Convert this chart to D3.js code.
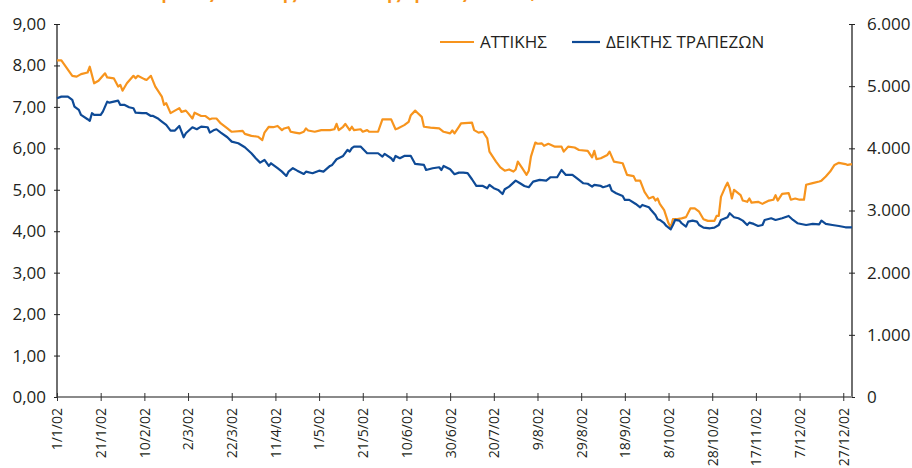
<!DOCTYPE html>
<html>
<head>
<meta charset="utf-8">
<script src="https://cdn.jsdelivr.net/npm/d3@7"></script>
<style>
  body { margin: 0; background: #fff; }
  svg { display: block; font-family: "Open Sans", sans-serif; }
</style>
</head>
<body>
<div id="chart"></div>
<script>
// ΑΤΤΙΚΗΣ (left axis, €) - dates as d/m of 2002
const attikiDates = ["1/1","3/1","8/1","10/1","12/1","15/1","16/1","18/1","20/1","23/1","24/1","27/1","29/1","30/1","31/1",
  "2/2","5/2","6/2","7/2","10/2","11/2","13/2","15/2","18/2","19/2","20/2","22/2","23/2","26/2","27/2",
  "1/3","2/3","4/3","5/3","8/3","10/3","12/3","13/3","15/3","17/3","20/3","22/3","27/3","28/3","31/3",
  "3/4","5/4","6/4","8/4","10/4","12/4","14/4","15/4","17/4","18/4","20/4","22/4","24/4","25/4","26/4","29/4",
  "2/5","6/5","8/5","9/5","10/5","12/5","13/5","15/5","16/5","17/5","20/5","21/5","23/5","24/5","28/5","30/5",
  "3/6","5/6","6/6","9/6","11/6","12/6","14/6","15/6","17/6","18/6","21/6","25/6","27/6","30/6",
  "1/7","2/7","4/7","5/7","10/7","11/7","13/7","15/7","17/7","18/7","21/7","23/7","25/7","27/7","29/7","30/7","31/7",
  "2/8","4/8","5/8","6/8","8/8","9/8","11/8","12/8","14/8","17/8","20/8","21/8","23/8","26/8","28/8",
  "1/9","3/9","4/9","5/9","7/9","10/9","11/9","13/9","17/9","19/9","22/9","23/9","25/9","27/9","29/9",
  "1/10","2/10","3/10","4/10","6/10","8/10","9/10","10/10","12/10","14/10","16/10","18/10","20/10","22/10","24/10","26/10","29/10","30/10","31/10",
  "1/11","3/11","4/11","5/11","6/11","7/11","10/11","11/11","13/11","14/11","15/11","18/11","20/11","23/11","25/11","26/11","27/11","29/11",
  "2/12","3/12","5/12","7/12","9/12","10/12","13/12","16/12","17/12","19/12","21/12","23/12","25/12","28/12","29/12","31/12"];
const attikiValues = [8.12,8.12,7.75,7.73,7.79,7.83,7.97,7.57,7.63,7.81,7.71,7.69,7.49,7.53,7.39,
  7.57,7.75,7.69,7.75,7.67,7.65,7.75,7.49,7.25,7.05,7.09,6.85,6.88,6.97,6.88,
  6.91,6.85,6.72,6.86,6.78,6.78,6.70,6.72,6.72,6.60,6.48,6.40,6.42,6.35,6.30,
  6.28,6.20,6.38,6.52,6.51,6.54,6.44,6.48,6.51,6.40,6.38,6.36,6.40,6.48,6.43,6.40,
  6.44,6.44,6.46,6.59,6.44,6.52,6.59,6.44,6.52,6.44,6.46,6.40,6.44,6.40,6.40,6.70,
  6.70,6.46,6.48,6.56,6.64,6.80,6.91,6.86,6.76,6.52,6.50,6.48,6.40,6.36,
  6.43,6.36,6.52,6.60,6.62,6.44,6.38,6.40,6.24,5.92,5.68,5.54,5.46,5.49,5.44,5.49,5.68,
  5.52,5.36,5.46,5.80,6.14,6.11,6.12,6.06,6.11,6.04,6.04,5.92,6.04,6.02,5.96,
  5.94,5.78,5.94,5.74,5.76,5.84,5.92,5.68,5.64,5.36,5.33,5.22,5.22,4.95,4.79,
  4.83,4.74,4.79,4.66,4.51,4.19,4.09,4.29,4.29,4.31,4.34,4.55,4.55,4.47,4.29,4.25,4.25,4.37,4.37,
  4.83,5.07,5.17,5.04,4.79,5.00,4.87,4.74,4.71,4.79,4.69,4.71,4.66,4.74,4.76,4.87,4.74,4.90,
  4.92,4.76,4.79,4.76,4.76,5.12,5.16,5.20,5.22,5.32,5.44,5.60,5.65,5.62,5.60,5.62];

// ΔΕΙΚΤΗΣ ΤΡΑΠΕΖΩΝ (right axis, points)
const bankDates = ["1/1","3/1","6/1","8/1","9/1","11/1","12/1","15/1","16/1","17/1","18/1","21/1","22/1","24/1","25/1","27/1","29/1","30/1",
  "1/2","3/2","5/2","6/2","9/2","11/2","13/2","14/2","16/2","18/2","20/2","22/2","24/2","25/2","26/2","27/2","28/2",
  "1/3","3/3","4/3","6/3","8/3","11/3","12/3","14/3","15/3","17/3","20/3","22/3","25/3","28/3","31/3",
  "2/4","4/4","6/4","8/4","9/4","12/4","14/4","16/4","17/4","19/4","21/4","24/4","25/4","28/4",
  "1/5","3/5","6/5","7/5","9/5","12/5","14/5","15/5","16/5","17/5","20/5","23/5","26/5","28/5","30/5","31/5",
  "3/6","4/6","5/6","7/6","9/6","12/6","14/6","18/6","19/6","22/6","25/6","26/6","27/6","30/6",
  "2/7","4/7","6/7","8/7","10/7","12/7","15/7","17/7","18/7","20/7","22/7","24/7","25/7","27/7","30/7",
  "1/8","3/8","5/8","7/8","10/8","13/8","15/8","18/8","20/8","22/8","25/8","28/8","30/8",
  "1/9","3/9","4/9","7/9","8/9","10/9","11/9","12/9","14/9","17/9","18/9","20/9","23/9","25/9","26/9","29/9","30/9",
  "2/10","3/10","4/10","6/10","7/10","9/10","10/10","11/10","13/10","14/10","16/10","17/10","19/10","21/10","22/10","24/10","27/10","29/10","31/10",
  "1/11","4/11","5/11","7/11","9/11","11/11","13/11","14/11","16/11","18/11","20/11","21/11","24/11","26/11","29/11",
  "2/12","4/12","6/12","10/12","13/12","16/12","17/12","19/12","22/12","25/12","28/12","31/12"];
const bankValues = [4806,4832,4832,4779,4671,4618,4537,4468,4441,4565,4537,4537,4591,4751,4735,4751,4767,4698,
  4698,4661,4645,4574,4565,4565,4521,4521,4484,4430,4377,4285,4285,4323,4360,4269,4178,
  4243,4307,4339,4307,4349,4339,4253,4296,4307,4253,4178,4108,4082,4018,3921,
  3841,3770,3813,3717,3760,3680,3625,3556,3625,3680,3641,3588,3625,3599,
  3641,3625,3717,3733,3825,3878,3974,3947,4002,4028,4028,3921,3921,3921,3866,3910,
  3841,3797,3878,3841,3878,3878,3749,3733,3652,3680,3696,3652,3717,3663,
  3583,3609,3609,3600,3503,3395,3395,3358,3411,3358,3331,3266,3342,3384,3480,
  3438,3395,3374,3464,3492,3480,3535,3535,3652,3572,3572,3492,3438,
  3430,3384,3411,3395,3374,3395,3411,3319,3277,3234,3170,3170,3105,3052,3089,3052,3009,
  2928,2859,2848,2795,2751,2698,2767,2848,2837,2795,2740,2821,2837,2821,2767,2724,2714,2724,2767,
  2848,2891,2956,2891,2875,2837,2767,2805,2784,2751,2767,2848,2875,2848,2875,
  2912,2848,2795,2767,2784,2778,2837,2784,2767,2751,2730,2730];

const leftTicks = [0, 1, 2, 3, 4, 5, 6, 7, 8, 9];
const rightTicks = [0, 1000, 2000, 3000, 4000, 5000, 6000];
const tickEveryDays = 20;

const seriesNames = ["ΑΤΤΙΚΗΣ", "ΔΕΙΚΤΗΣ ΤΡΑΠΕΖΩΝ"];
const title = "Τράπεζα Αττικής και Δείκτης Τραπεζών ΧΑΑ, 2002";

const W = 912, H = 468;
const orange = "#f7941d", blue = "#0e4a96";

const parseDay = d3.timeParse("%d/%m/%Y");
const toDate = s => parseDay(s + "/2002");

const attiki = attikiDates.map((d, i) => ({date: toDate(d), value: attikiValues[i]}));
const bank = bankDates.map((d, i) => ({date: toDate(d), value: bankValues[i]}));

const gr = d3.formatLocale({decimal: ",", thousands: ".", grouping: [3], currency: ["", "€"]});

const svg = d3.select("#chart").append("svg")
    .attr("width", W)
    .attr("height", H);

const start = new Date(2002, 0, 1), end = new Date(2002, 11, 31);
const x = d3.scaleTime().domain([start, end]).range([57, 852]);
const yL = d3.scaleLinear().domain([0, 9]).range([397, 24]);
const yR = d3.scaleLinear().domain([0, 6000]).range([397, 24]);

// title (cut by the top edge, as in the source)
svg.append("text")
    .attr("x", 152).attr("y", -1)
    .attr("fill", orange)
    .attr("font-size", 17)
    .attr("font-weight", 700)
    .text(title);

// left axis
const leftAxis = svg.append("g")
    .attr("transform", "translate(57,0)")
    .call(d3.axisLeft(yL).tickValues(leftTicks).tickFormat(gr.format(".2f")).tickSize(3).tickPadding(8));
leftAxis.select(".domain").remove();
leftAxis.selectAll(".tick line").attr("x1", 3).attr("stroke", "#222");
leftAxis.selectAll(".tick text").attr("font-size", 17).attr("fill", "#231f20")
    .attr("font-family", "Open Sans, sans-serif");
svg.append("line").attr("x1", 57).attr("x2", 57).attr("y1", yL(9)).attr("y2", yL(0))
    .attr("stroke", "#222").attr("stroke-width", 1.3);

// right axis
const rightAxis = svg.append("g")
    .attr("transform", "translate(852,0)")
    .call(d3.axisRight(yR).tickValues(rightTicks).tickFormat(gr.format(",.0f")).tickSize(3).tickPadding(12));
rightAxis.select(".domain").remove();
rightAxis.selectAll(".tick line").attr("x1", -3).attr("stroke", "#222");
rightAxis.selectAll(".tick text").attr("font-size", 17).attr("fill", "#231f20")
    .attr("font-family", "Open Sans, sans-serif");
svg.append("line").attr("x1", 852).attr("x2", 852).attr("y1", yR(6000)).attr("y2", yR(0))
    .attr("stroke", "#222").attr("stroke-width", 1.3);

// bottom axis
const xTicks = d3.range(0, 365, tickEveryDays).map(d => d3.timeDay.offset(start, d));
svg.append("line").attr("x1", 57).attr("x2", 852).attr("y1", 397).attr("y2", 397)
    .attr("stroke", "#8a8a8a").attr("stroke-width", 2);
const bottomAxis = svg.append("g")
    .attr("transform", "translate(0,397)")
    .call(d3.axisBottom(x).tickValues(xTicks).tickFormat(d3.timeFormat("%-d/%-m/%y")).tickSize(4).tickPadding(0));
bottomAxis.select(".domain").remove();
bottomAxis.selectAll(".tick line").attr("y1", -4).attr("stroke", "#333");
bottomAxis.selectAll(".tick text")
    .attr("font-size", 14)
    .attr("font-family", "Open Sans, sans-serif")
    .attr("fill", "#231f20")
    .attr("text-anchor", "end")
    .attr("dy", "0.35em")
    .attr("transform", "translate(0,11) rotate(-90)")
    .attr("y", 0)
    .attr("x", 0);

// lines
const lineL = d3.line().x(d => x(d.date)).y(d => yL(d.value));
const lineR = d3.line().x(d => x(d.date)).y(d => yR(d.value));

svg.append("path").datum(attiki)
    .attr("fill", "none").attr("stroke", orange).attr("stroke-width", 2.2)
    .attr("stroke-linejoin", "round").attr("d", lineL);
svg.append("path").datum(bank)
    .attr("fill", "none").attr("stroke", blue).attr("stroke-width", 2.2)
    .attr("stroke-linejoin", "round").attr("d", lineR);

// legend
const legend = svg.append("g").attr("font-size", 17).attr("fill", "#231f20");
const legendItems = [
    {name: seriesNames[0], color: orange, x0: 440, x1: 474, tx: 480},
    {name: seriesNames[1], color: blue, x0: 572, x1: 600, tx: 606}
];
legendItems.forEach(it => {
    legend.append("line").attr("x1", it.x0).attr("x2", it.x1).attr("y1", 42).attr("y2", 42)
        .attr("stroke", it.color).attr("stroke-width", 2.2);
    legend.append("text").attr("x", it.tx).attr("y", 48).text(it.name);
});
</script>
</body>
</html>
